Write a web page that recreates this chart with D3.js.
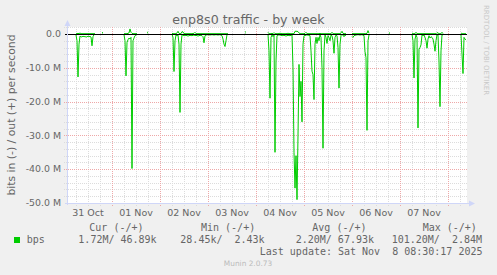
<!DOCTYPE html>
<html>
<head>
<meta charset="utf-8">
<script src="https://cdn.jsdelivr.net/npm/d3@7"></script>
<style>
body { margin: 0; background: #f0f0f0; }
svg text { font-family: "DejaVu Sans", sans-serif; fill: #666; }
svg text.mono { font-family: "DejaVu Sans Mono", monospace; white-space: pre; font-size: 10px; }
</style>
</head>
<body>
<div id="graph"></div>
<script>
// ---------------------------//
//       DATA                 //
// ---------------------------//

// hours since 31 Oct 00:00 (30 min samples), null = unknown
var hours = [
  6,6.5,7,7.5,8,8.5,9.5,10.5,11.5,12,12.5,13,13.5,14,14.5,15,15.5,16,
  19,19.5,20,
  30,30.5,31,31.5,32,32.5,33,33.5,34,34.5,35,35.5,36,36.5,37,
  41.5,42,42.5,
  54,54.5,55,55.5,56,56.5,57,57.5,58,58.5,59,59.5,60,61,62,63,64,65,65.5,66,
  67,68,69,69.5,70,70.5,71,72,73,74,75,76,77,78,78.5,79,79.5,80,80.5,81,81.5,82,82.5,
  90.5,91,91.5,
  102,102.5,103,103.5,104,104.5,105,105.5,106,106.5,107,108,109,110,111,112,113,114,114.5,115,
  115.5,116,116.5,117,117.5,118,118.5,119,119.5,120,120.5,121,121.5,122,122.5,123,123.5,124,124.5,125,
  125.5,126,126.5,127,127.5,128,128.5,129,129.5,130,130.5,131,131.5,132,132.5,133,133.5,134,134.5,135,
  135.5,136,136.5,137,137.5,138,138.5,139,139.5,140,140.5,141,141.5,
  144,144.5,145,146,147,148,149,150,150.5,151,151.5,152,152.5,153,
  162.5,163,163.5,
  174,174.5,175,175.5,176,176.5,177,177.5,178,178.5,179,179.5,180,180.5,181,181.5,182,182.5,183,183.5,
  184,184.5,185,185.5,186,186.5,187,187.5,188,188.5,189,189.5,190,
  198.5,199,199.5,200,200.5,201
];

// received, Mbit/s (drawn below zero)
var bitsIn = [
  0.3,2,12.7,3,0.6,0.9,0.7,0.8,0.9,0.6,0.8,0.7,0.9,3.5,0.8,0.2,0.1,null,
  0.05,0.05,null,
  0.2,2,12.4,2.5,1.7,1.2,1.5,1.0,39.8,2,1.2,0.5,0.3,0.1,null,
  0.05,0.05,null,
  0.1,1,11.1,2,0.3,0.5,0.3,3,23.2,3,0.2,0.4,0.5,0.4,0.6,0.4,0.5,0.3,0.5,0.4,
  0.6,0.4,0.5,0.8,2.6,0.5,0.3,0.2,0.3,0.2,0.3,0.2,0.3,0.2,0.3,0.5,1.5,3,3.7,2,0.2,0.1,null,
  0.05,0.05,null,
  0.1,5,19,1,0.3,0.8,0.3,35,8,0.5,0.3,0.3,0.5,0.4,0.6,0.4,0.5,0.3,10,35,
  45.6,36,49,30,9,18.5,14,26,3,0.5,0.3,0.5,0.2,0.4,0.3,0.5,5,11,12,19.4,
  3,1,2.8,1,2,0.2,1,10,33.8,5,0.2,1,2.8,0.5,1,2,0.3,0.5,2,5.7,
  1,0.3,0.5,4,16,3,0.5,0.2,0.3,0.8,0.3,0.5,null,
  0.7,1,0.5,0.3,0.2,0.3,0.2,0.5,5.2,7,28.5,2,0.3,null,
  0.05,0.05,null,
  0.1,2,13,1.5,0.3,1,27.8,4.5,4,3.2,0.3,0.5,0.3,1,2,4.2,1.5,0.5,1.2,0.8,
  1,1.5,3,5.1,2,0.2,0.3,8,21.5,5,0.2,0.3,null,
  0.2,6,11.7,1,1.5,1.8
];

// sent, Mbit/s (drawn above zero)
var bitsOut = [
  0.1,0.1,0.2,0.1,0.3,0.1,0.1,0.1,0.1,0.1,0.1,0.1,0.1,0.1,0.1,0.1,0.1,null,
  0.4,0.4,null,
  0.1,0.1,0.1,0.1,0.2,0.3,1.5,0.5,0.2,0.1,0.1,0.1,0.1,0.1,null,
  0.5,0.5,null,
  0.2,0.1,0.1,0.1,0.1,0.3,0.8,0.2,0.1,0.1,0.7,0.6,0.1,0.1,0.1,0.1,0.1,0.2,0.5,0.1,
  0.1,0.1,0.1,0.1,0.1,0.1,0.1,0.1,0.1,0.1,0.1,0.1,0.1,0.1,0.1,0.1,0.1,0.1,0.1,0.1,0.1,0.1,null,
  0.6,0.6,null,
  0.5,0.1,0.1,0.1,0.2,0.1,0.4,0.1,0.1,0.1,0.1,0.2,0.1,0.1,0.1,0.2,0.1,0.1,0.1,0.1,
  0.8,0.8,0.8,0.7,0.3,0.1,0.1,0.1,0.1,0.1,0.2,0.5,0.1,0.1,0.1,0.1,0.1,0.1,0.1,0.1,
  0.1,0.1,0.1,0.1,0.1,0.2,0.1,0.1,0.1,0.1,0.1,0.1,0.1,0.1,0.1,0.1,0.1,0.5,0.1,0.1,
  0.1,0.1,0.1,0.1,0.1,0.1,0.3,0.8,0.2,0.1,0.1,0.1,null,
  0.1,0.1,0.1,0.1,0.1,0.1,0.1,0.1,0.1,0.1,0.2,1.0,0.2,null,
  0.3,0.3,null,
  0.3,0.1,0.1,0.1,0.5,0.1,0.1,0.1,0.1,0.1,0.1,0.1,0.1,0.1,0.1,0.1,0.1,0.1,0.1,0.1,
  0.1,0.1,0.1,0.1,0.1,0.4,0.3,0.1,0.1,0.1,0.5,0.1,null,
  0.3,0.1,0.1,0.1,0.1,0.1
];

var yTickValues = [0, -10, -20, -30, -40, -50];
var yTickLabels = ["0.0", "-10.0 M", "-20.0 M", "-30.0 M", "-40.0 M", "-50.0 M"];
var dayLabels = ["31 Oct", "01 Nov", "02 Nov", "03 Nov", "04 Nov", "05 Nov", "06 Nov", "07 Nov"];

var legendHeaders = ["Cur (-/+)", "Min (-/+)", "Avg (-/+)", "Max (-/+)"];
var legendValues = ["  1.72M/ 46.89k", " 28.45k/  2.43k", "  2.20M/ 67.93k", "101.20M/  2.84M"];

// ---------------------------//
//       SETUP                //
// ---------------------------//

var width = 497, height = 275;
var plot = {left: 67, right: 467, top: 27, bottom: 203};

var svg = d3.select("#graph")
  .append("svg")
  .attr("width", width)
  .attr("height", height);

svg.append("rect")
  .attr("width", width)
  .attr("height", height)
  .attr("fill", "#f0f0f0");

var start = new Date(2025, 9, 31, 0, 0, 0);
var toDate = function(h) { return new Date(start.getTime() + h * 3600000); };

var data = hours.map(function(h, i) {
  return {t: toDate(h), inb: bitsIn[i], outb: bitsOut[i]};
});

var x = d3.scaleTime()
  .domain([toDate(1.5), toDate(201.5)])
  .range([plot.left, plot.right]);

var y = d3.scaleLinear()
  .domain([-50, 2.07])
  .range([plot.bottom, plot.top]);

var px = function(v) { return Math.round(v) + 0.5; };

// canvas
svg.append("rect")
  .attr("x", plot.left)
  .attr("y", plot.top)
  .attr("width", plot.right - plot.left)
  .attr("height", plot.bottom - plot.top)
  .attr("fill", "#ffffff");

// ---------------------------//
//       GRID                 //
// ---------------------------//

var minorT = d3.timeHour.every(6).range(x.domain()[0], x.domain()[1])
  .filter(function(d) { return d.getHours() !== 0; });
var majorT = d3.timeDay.range(x.domain()[0], x.domain()[1]);
var minorY = d3.range(-48, 2.07, 2).filter(function(v) { return v % 10 !== 0; });
var majorY = [-40, -30, -20, -10];

var grid = svg.append("g")
  .attr("fill", "none")
  .attr("stroke-width", 1)
  .attr("stroke-dasharray", "1,1");

grid.selectAll("line.vmin")
  .data(minorT)
  .enter()
  .append("line")
    .attr("x1", function(d) { return px(x(d)); })
    .attr("x2", function(d) { return px(x(d)); })
    .attr("y1", plot.top)
    .attr("y2", plot.bottom + 3)
    .attr("stroke", "#dcdcdc");

grid.selectAll("line.hmin")
  .data(minorY)
  .enter()
  .append("line")
    .attr("x1", plot.left - 3)
    .attr("x2", plot.right)
    .attr("y1", function(d) { return px(y(d)); })
    .attr("y2", function(d) { return px(y(d)); })
    .attr("stroke", "#dcdcdc");

grid.selectAll("line.vmaj")
  .data(majorT)
  .enter()
  .append("line")
    .attr("x1", function(d) { return px(x(d)); })
    .attr("x2", function(d) { return px(x(d)); })
    .attr("y1", plot.top)
    .attr("y2", plot.bottom + 3)
    .attr("stroke", "#eea8a8");

grid.selectAll("line.hmaj")
  .data(majorY)
  .enter()
  .append("line")
    .attr("x1", plot.left - 3)
    .attr("x2", plot.right)
    .attr("y1", function(d) { return px(y(d)); })
    .attr("y2", function(d) { return px(y(d)); })
    .attr("stroke", "#eea8a8");

// ---------------------------//
//       LINES                //
// ---------------------------//

var lineIn = d3.line()
  .defined(function(d) { return d.inb !== null; })
  .x(function(d) { return x(d.t); })
  .y(function(d) { return y(-d.inb); });

var lineOut = d3.line()
  .defined(function(d) { return d.outb !== null; })
  .x(function(d) { return x(d.t); })
  .y(function(d) { return y(d.outb); });

svg.append("path")
  .datum(data)
  .attr("d", lineOut)
  .attr("fill", "none")
  .attr("stroke", "#00cc00")
  .attr("stroke-width", 1);

svg.append("path")
  .datum(data)
  .attr("d", lineIn)
  .attr("fill", "none")
  .attr("stroke", "#00cc00")
  .attr("stroke-width", 1);

// zero rule
svg.append("line")
  .attr("x1", plot.left - 2)
  .attr("x2", plot.right)
  .attr("y1", px(y(0)))
  .attr("y2", px(y(0)))
  .attr("stroke", "#000000");

// ---------------------------//
//       AXES                 //
// ---------------------------//

var axisColor = "#cfd6f8";

svg.append("line")
  .attr("x1", plot.left + 0.5).attr("x2", plot.left + 0.5)
  .attr("y1", plot.bottom + 2).attr("y2", plot.top - 3)
  .attr("stroke", axisColor);
svg.append("path")
  .attr("d", "M64.5,26 L70.5,26 L67.5,20 Z")
  .attr("fill", axisColor);

svg.append("line")
  .attr("x1", plot.left - 2).attr("x2", plot.right + 3)
  .attr("y1", plot.bottom + 0.5).attr("y2", plot.bottom + 0.5)
  .attr("stroke", axisColor);
svg.append("path")
  .attr("d", "M469,200.5 L469,206.5 L475,203.5 Z")
  .attr("fill", axisColor);

// y tick labels
svg.selectAll("text.ytick")
  .data(yTickValues)
  .enter()
  .append("text")
    .attr("x", 61)
    .attr("y", function(d) { return y(d); })
    .attr("dy", "0.35em")
    .attr("text-anchor", "end")
    .style("font-size", "9.4px")
    .text(function(d, i) { return yTickLabels[i]; });

// x tick labels at noon
svg.selectAll("text.xtick")
  .data(dayLabels)
  .enter()
  .append("text")
    .attr("x", function(d, i) { return x(toDate(12 + 24 * i)); })
    .attr("y", 216)
    .attr("text-anchor", "middle")
    .style("font-size", "9.5px")
    .text(function(d) { return d; });

// title
svg.append("text")
  .attr("x", 248.5)
  .attr("y", 24)
  .attr("text-anchor", "middle")
  .style("font-size", "12.6px")
  .text("enp8s0 traffic - by week");

// y axis label
svg.append("text")
  .attr("transform", "translate(15,115) rotate(-90)")
  .attr("text-anchor", "middle")
  .style("font-size", "10.8px")
  .text("bits in (-) / out (+) per second");

// watermark
svg.append("text")
  .attr("transform", "translate(484,5) rotate(90)")
  .attr("text-anchor", "start")
  .style("font-size", "7px")
  .style("fill", "#c8c8c8")
  .text("RRDTOOL / TOBI OETIKER");

// ---------------------------//
//       LEGEND               //
// ---------------------------//

var headerX = [89.3, 201, 312.3, 422.7];
var valueX = [66.3, 174.3, 283.7, 391.7];

svg.selectAll("text.head")
  .data(legendHeaders)
  .enter()
  .append("text")
    .attr("class", "mono")
    .attr("x", function(d, i) { return headerX[i]; })
    .attr("y", 231)
    .text(function(d) { return d; });

svg.append("rect")
  .attr("x", 14)
  .attr("y", 237)
  .attr("width", 6)
  .attr("height", 6)
  .attr("fill", "#00cc00");

svg.append("text")
  .attr("class", "mono")
  .attr("x", 26.7)
  .attr("y", 243)
  .text("bps");

svg.selectAll("text.val")
  .data(legendValues)
  .enter()
  .append("text")
    .attr("class", "mono")
    .attr("x", function(d, i) { return valueX[i]; })
    .attr("y", 243)
    .text(function(d) { return d; });

svg.append("text")
  .attr("class", "mono")
  .attr("x", 482.5)
  .attr("y", 255)
  .attr("text-anchor", "end")
  .text("Last update: Sat Nov  8 08:30:17 2025");

svg.append("text")
  .attr("x", 248)
  .attr("y", 266)
  .attr("text-anchor", "middle")
  .style("font-size", "7.4px")
  .style("fill", "#bbbbbb")
  .text("Munin 2.0.73");
</script>
</body>
</html>
